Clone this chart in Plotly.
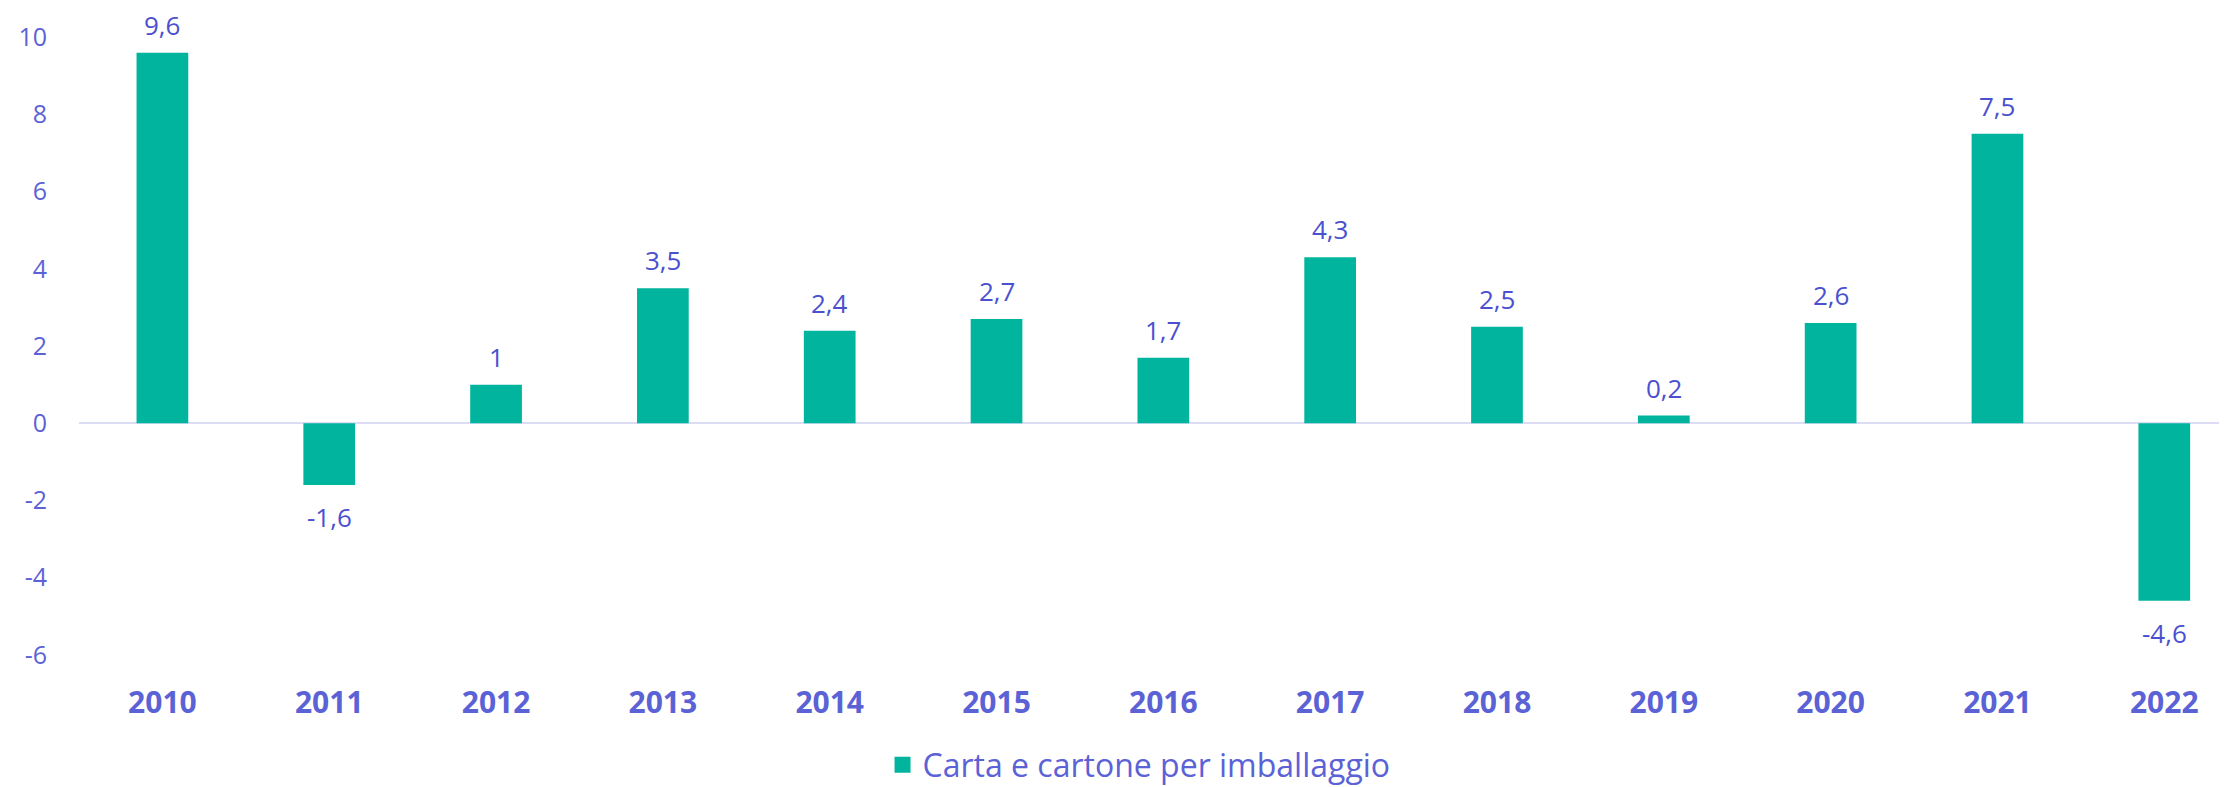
import plotly.graph_objects as go

years = ["2010", "2011", "2012", "2013", "2014", "2015", "2016",
         "2017", "2018", "2019", "2020", "2021", "2022"]
values = [9.6, -1.6, 1.0, 3.5, 2.4, 2.7, 1.7, 4.3, 2.5, 0.2, 2.6, 7.5, -4.6]
series_name = "Carta e cartone per imballaggio"
y_ticks = [-6, -4, -2, 0, 2, 4, 6, 8, 10]


def fmt(v):
    return ("%g" % v).replace(".", ",")


labels = [fmt(v) for v in values]

TEXT = "#5B62D6"
LABEL = "#4B50CF"
BAR = "#00B49E"
FONT = "'Open Sans', Lato, sans-serif"

W, H = 2219, 779  # page body adds an 8px margin

fig = go.Figure()
fig.add_trace(go.Bar(
    x=years, y=values, name=series_name,
    marker=dict(color=BAR, line=dict(width=0)),
    width=0.31,
    showlegend=False,
))
# legend entry with a larger square swatch
fig.add_trace(go.Scatter(
    x=[None], y=[None], mode="markers", name=series_name,
    marker=dict(symbol="square", size=20, color=BAR),
    showlegend=True,
))

for i, (v, t) in enumerate(zip(values, labels)):
    fig.add_annotation(
        x=i, y=v, text=t, showarrow=False,
        xref="x", yref="y",
        yanchor="bottom" if v >= 0 else "top",
        yshift=8 if v >= 0 else -12,
        font=dict(family=FONT, size=26, color=LABEL),
    )

fig.update_layout(
    width=W, height=H,
    margin=dict(l=71, r=0, t=10, b=109),
    paper_bgcolor="white", plot_bgcolor="white",
    font=dict(family=FONT, color=TEXT),
    legend=dict(
        orientation="h", x=0.4935, xanchor="center", xref="paper",
        yref="container", y=1 - 757 / H, yanchor="middle",
        font=dict(family=FONT, size=32, color=TEXT),
        itemwidth=30,
    ),
    xaxis=dict(
        type="category",
        range=[-0.5, 12.376],
        showgrid=False, showline=False, zeroline=False,
        ticks="", automargin=False, ticklabelstandoff=4,
        tickfont=dict(family=FONT, size=30, color=TEXT, weight="bold"),
    ),
    yaxis=dict(
        range=[-6.6, 10.5],
        tickvals=y_ticks,
        ticktext=[str(t) for t in y_ticks],
        showgrid=False, showline=False,
        zeroline=True, zerolinecolor="#DCDCF5", zerolinewidth=2,
        ticks="", ticklabelstandoff=31, automargin=False,
        tickfont=dict(family=FONT, size=25, color=TEXT),
    ),
)

fig.write_html("out.html")
